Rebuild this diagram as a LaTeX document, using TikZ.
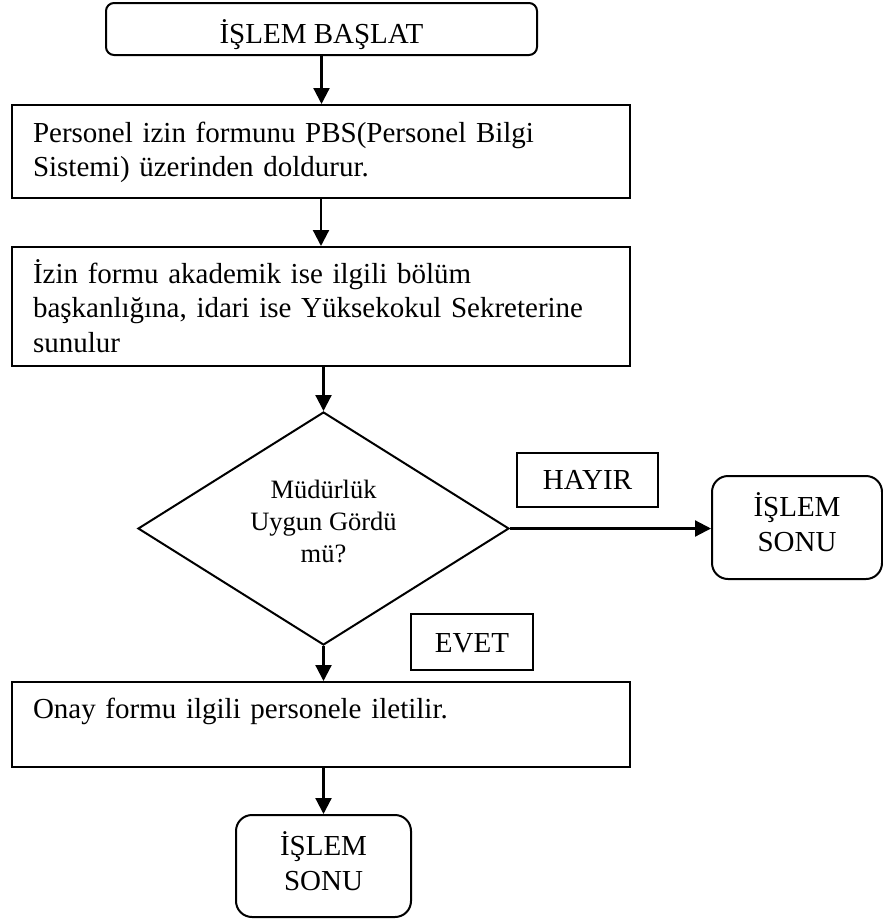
\documentclass[tikz,border=0pt]{standalone}
\usepackage{fontspec}
\setmainfont{Liberation Serif}
\usetikzlibrary{shapes.geometric,arrows.meta}
\begin{document}
\begin{tikzpicture}[x=1pt,y=-1pt,
  box/.style={draw, line width=2pt, rectangle, inner sep=0pt, font=\fontsize{29}{34.5}\selectfont},
  textbox/.style={box, minimum width=618pt, text width=576pt, align=left},
  endbox/.style={box, rounded corners=16pt, align=center, minimum width=170pt},
  lbl/.style={box, align=center},
  arr/.style={-{Triangle[length=16pt,width=16pt]}, line width=2.2pt}]
\useasboundingbox (0,0) rectangle (883,919);
\node[box, rounded corners=8pt, minimum width=431pt, minimum height=52pt,
      text height=28pt, text depth=0pt] (start) at (321.5,29) {İŞLEM BAŞLAT};
\node[textbox, minimum height=93pt, text height=20pt, text depth=39pt] (b2) at (321,151.5)
  {Personel izin formunu PBS(Personel Bilgi\\ Sistemi) üzerinden doldurur.};
\node[textbox, minimum height=119pt, text height=24pt, text depth=71pt] (b3) at (321,306.5)
  {İzin formu akademik ise ilgili bölüm\\ başkanlığına, idari ise Yüksekokul Sekreterine\\ sunulur};
\node[draw, diamond, line width=2pt, inner sep=0pt, aspect=1.59, minimum width=371pt,
      minimum height=233pt, align=center, font=\fontsize{26.5}{32}\selectfont,
      text height=82pt, text depth=15pt] (d) at (323.5,528.5)
  {Müdürlük\\ Uygun Gördü\\ mü?};
\node[lbl, minimum width=141pt, minimum height=54pt, text height=24pt, text depth=6pt]
  (hayir) at (587.5,480) {HAYIR};
\node[endbox, minimum height=103pt, text height=58pt, text depth=11pt] (endr) at (797,527.5)
  {İŞLEM\\ SONU};
\node[lbl, minimum width=122pt, minimum height=56pt, text height=24pt, text depth=4pt]
  (evet) at (472,642) {EVET};
\node[textbox, minimum height=85pt, text height=20pt, text depth=33pt] (b4) at (321,724.5)
  {Onay formu ilgili personele iletilir.};
\node[endbox, minimum width=175pt, minimum height=102pt, text height=58pt, text depth=10pt]
  (fin) at (323.5,866) {İŞLEM\\ SONU};
\draw[arr] (start.south) -- (start.south |- b2.north);
\draw[arr] (b2.south) -- (b3.north);
\draw[arr] (d.north |- b3.south) -- (d.north);
\draw[arr] (d.east) -- (d.east -| endr.west);
\draw[arr] (d.south) -- (d.south |- b4.north);
\draw[arr] (fin.north |- b4.south) -- (fin.north);
\end{tikzpicture}
\end{document}
